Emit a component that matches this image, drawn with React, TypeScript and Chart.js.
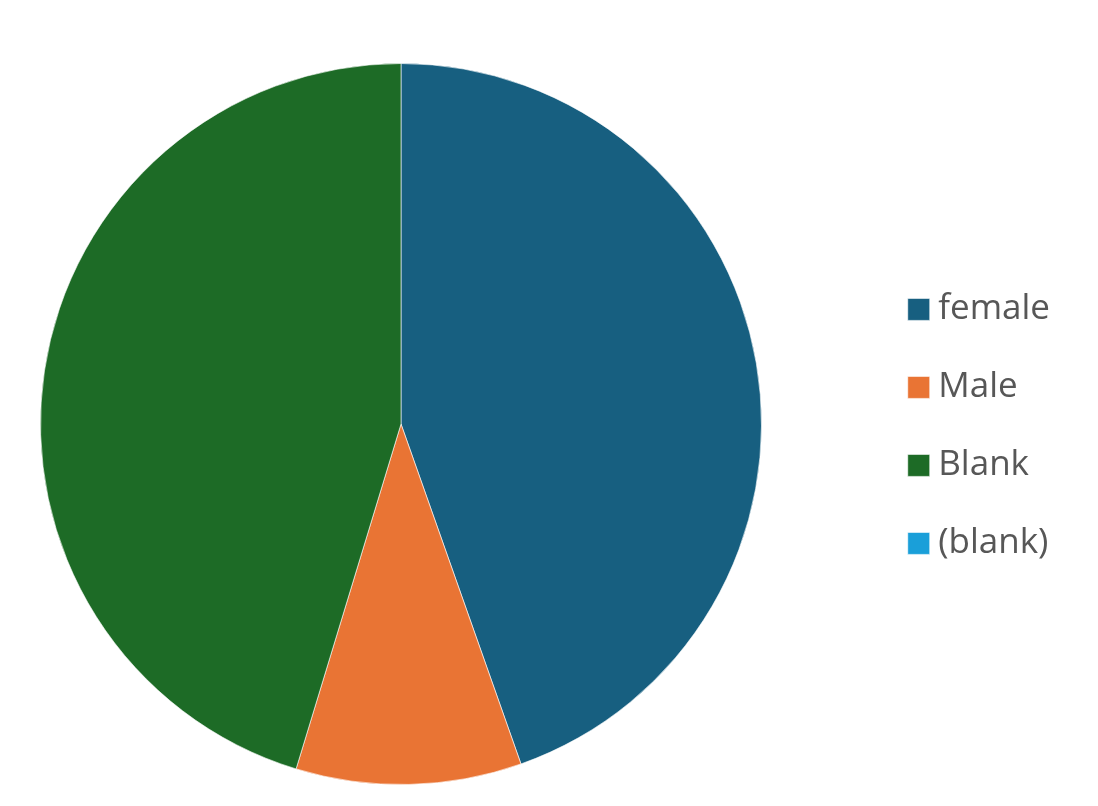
import React, { useEffect, useRef } from "react";
import { Chart, registerables } from "chart.js";

Chart.register(...registerables);

const categories = ["female", "Male", "Blank", "(blank)"];
const values = [44.6, 10.1, 45.3, 0];
const colors = ["#175F80", "#E97434", "#1D6B26", "#1A9FD9"];

// Keep the pie in a square area at the left so the legend can sit further right.
const squarePiePlugin = {
  id: "squarePie",
  afterLayout(chart: any) {
    const ca = chart.chartArea;
    const size = ca.bottom - ca.top;
    ca.right = ca.left + size;
    ca.width = size;
  },
};

export default function App() {
  const ref = useRef<HTMLCanvasElement | null>(null);
  useEffect(() => {
    if (!ref.current) return;
    const chart = new Chart(ref.current, {
      type: "pie",
      data: {
        labels: categories,
        datasets: [
          {
            data: values,
            backgroundColor: colors,
            borderColor: "rgba(255,255,255,0.6)",
            borderWidth: 1,
          },
        ],
      },
      options: {
        animation: false,
        responsive: false,
        maintainAspectRatio: false,
        layout: { padding: { top: 63, bottom: 21, left: 40, right: 38 } },
        plugins: {
          tooltip: { enabled: false },
          legend: {
            position: "right",
            title: { display: true, text: "", padding: 0, font: { size: 4 } },
            labels: {
              usePointStyle: true,
              pointStyle: "rect",
              boxWidth: 4,
              boxHeight: 22,
              padding: 43,
              color: "#575757",
              font: { family: "'Open Sans', sans-serif", size: 35, weight: "500" },
            },
          },
        },
      },
      plugins: [squarePiePlugin],
    });
    return () => chart.destroy();
  }, []);
  return (
    <div style={{ position: "fixed", left: 0, top: 0, width: 1098, height: 806, background: "#fff" }}>
      <canvas ref={ref} width={1098} height={806} style={{ width: 1098, height: 806 }} />
    </div>
  );
}
